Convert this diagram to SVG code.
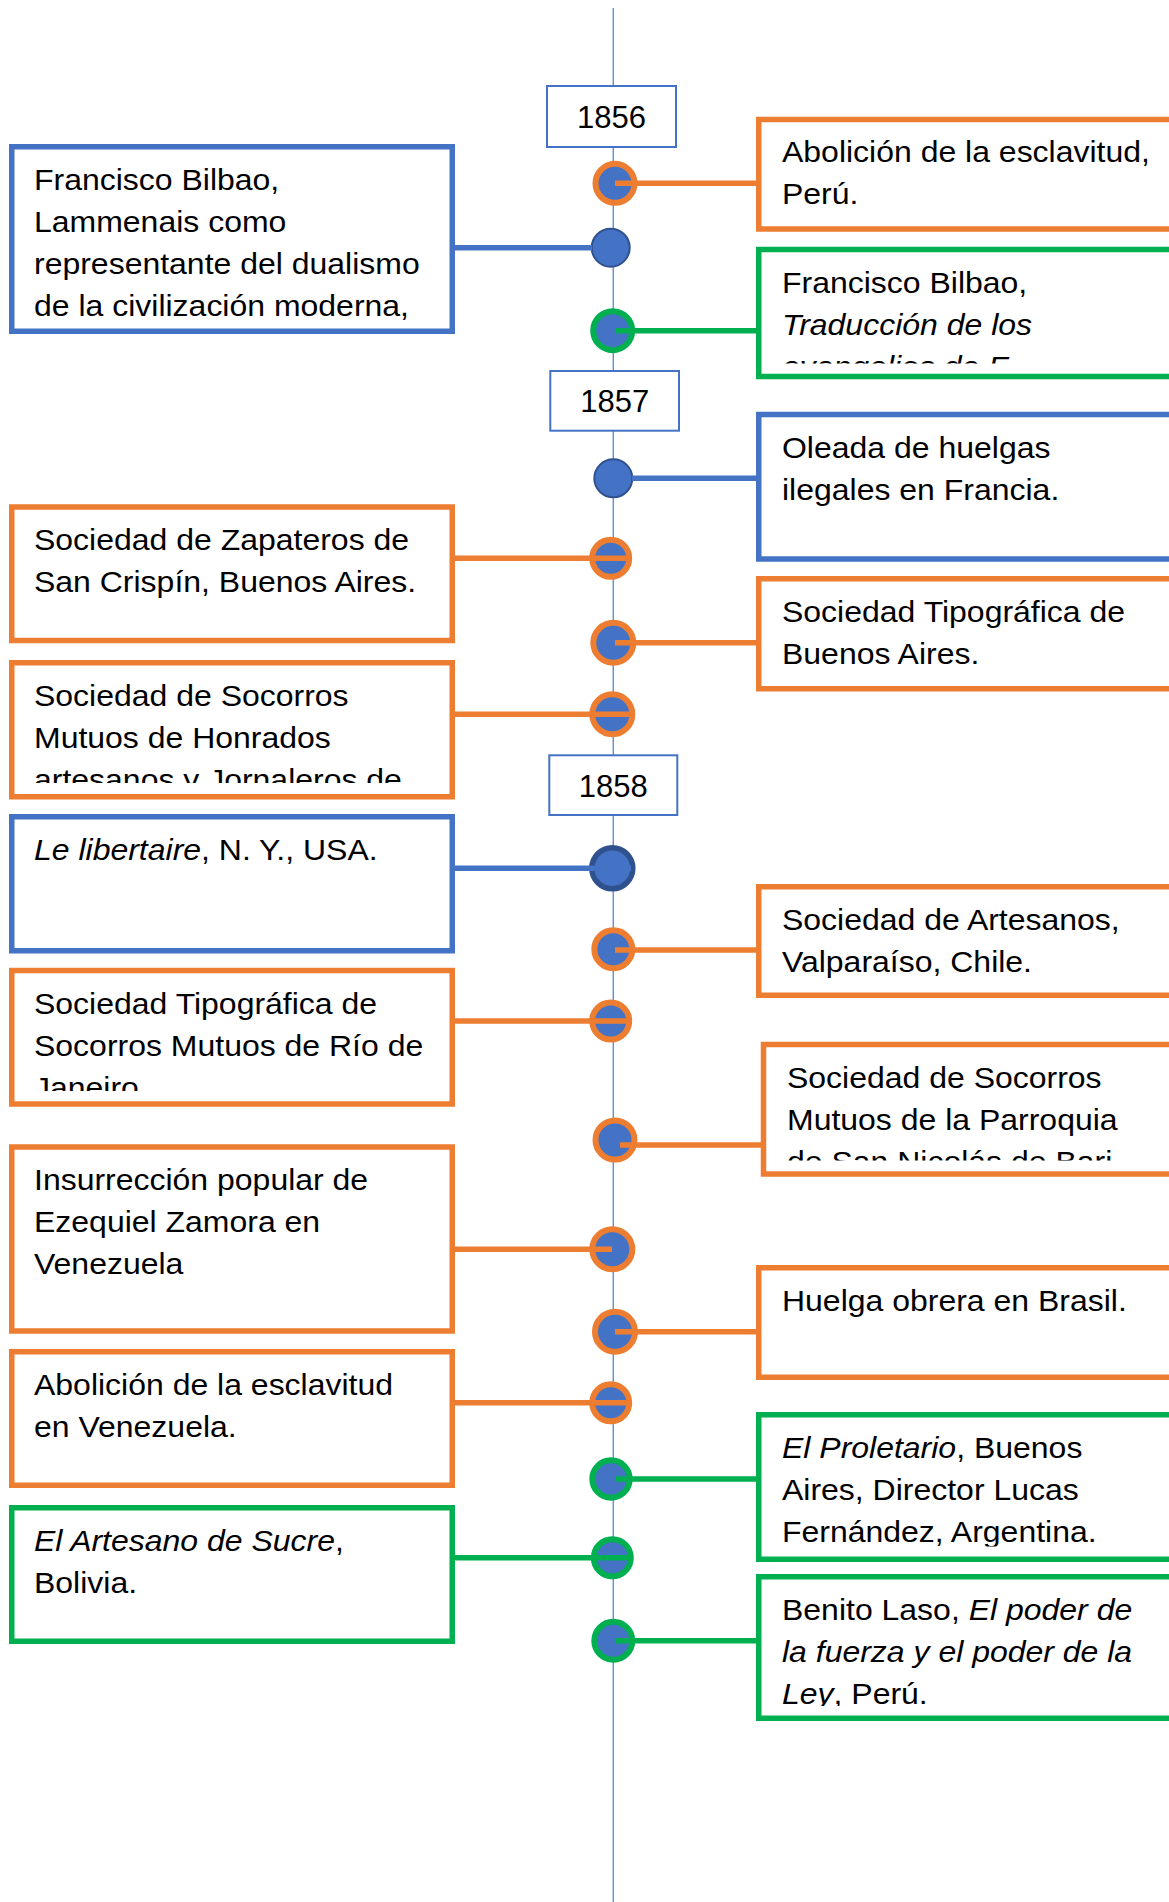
<svg xmlns="http://www.w3.org/2000/svg" width="1169" height="1902" viewBox="0 0 1169 1902">
<style>
.bg{fill:#fff}
.box{fill:#fff;stroke-width:5.5}
.bl{stroke:#4472C4}
.or{stroke:#ED7D31}
.gr{stroke:#00B050}
.yr{fill:#fff;stroke:#4472C4;stroke-width:2}
.t{font-family:"Liberation Sans",Arial,sans-serif;font-size:30px;fill:#000}
.y{font-family:"Liberation Sans",Arial,sans-serif;font-size:31px;fill:#000;text-anchor:middle}
.i{font-style:italic}
.con{fill:none;stroke-width:5.5}
.ring{fill:#4472C4;stroke-width:6}
.dot{fill:#4472C4;stroke:#2F528F;stroke-width:2}
.axis{stroke:#6F8FD4;stroke-width:1.5}
</style>
<defs>
<clipPath id="cR2"><rect x="760" y="250" width="420" height="113.5"/></clipPath>
<clipPath id="cL3"><rect x="12" y="663" width="440" height="120"/></clipPath>
<clipPath id="cL5"><rect x="12" y="971" width="440" height="120"/></clipPath>
<clipPath id="cR6"><rect x="765" y="1045" width="420" height="115.5"/></clipPath>
<clipPath id="cR8"><rect x="760" y="1415" width="420" height="131.5"/></clipPath>
<clipPath id="cR9"><rect x="760" y="1577" width="420" height="129"/></clipPath>
</defs>
<rect class="bg" x="0" y="0" width="1169" height="1902"/>

<g id="timeline">
<line class="axis" x1="613.3" y1="8" x2="613.3" y2="1902"/>
</g>

<g id="years">
<g id="y1856"><rect class="yr" x="547" y="86" width="129" height="61"/><text class="y" x="611.5" y="127.5">1856</text></g>
<g id="y1857"><rect class="yr" x="550.3" y="371" width="128.7" height="59.7"/><text class="y" x="614.7" y="412">1857</text></g>
<g id="y1858"><rect class="yr" x="549.3" y="755.3" width="128" height="59.7"/><text class="y" x="613.3" y="796.5">1858</text></g>
</g>

<g id="markers">
<circle class="ring or" cx="615" cy="183.3" r="19.5"/>
<circle class="dot" cx="610.7" cy="247.7" r="19"/>
<circle class="ring gr" cx="612.7" cy="330.7" r="19.5"/>
<circle class="dot" cx="613.3" cy="478.3" r="19"/>
<circle class="ring or" cx="610.7" cy="558.3" r="18.5"/>
<circle class="ring or" cx="613.3" cy="642.7" r="20"/>
<circle class="ring or" cx="612.3" cy="714.3" r="20"/>
<circle class="dot" cx="612.3" cy="868.3" r="20.5" style="stroke-width:5.5"/>
<circle class="ring or" cx="613.3" cy="949.3" r="19"/>
<circle class="ring or" cx="610.7" cy="1021" r="18.5"/>
<circle class="ring or" cx="615" cy="1140" r="19.5"/>
<circle class="ring or" cx="612.3" cy="1249.3" r="20"/>
<circle class="ring or" cx="615" cy="1331.7" r="20"/>
<circle class="ring or" cx="610.7" cy="1402.7" r="18.5"/>
<circle class="ring gr" cx="611" cy="1479" r="18.7"/>
<circle class="ring gr" cx="612.3" cy="1557.7" r="18.5"/>
<circle class="ring gr" cx="613.3" cy="1640.7" r="19"/>
</g>

<g id="connectors">
<line class="con or" x1="615" y1="183.3" x2="757" y2="183.3"/>
<line class="con bl" x1="454" y1="247.7" x2="592" y2="247.7"/>
<line class="con gr" x1="615" y1="330.7" x2="757" y2="330.7"/>
<line class="con bl" x1="632" y1="478.3" x2="757" y2="478.3"/>
<line class="con or" x1="454" y1="558.3" x2="628" y2="558.3"/>
<line class="con or" x1="615" y1="642.7" x2="757" y2="642.7"/>
<line class="con or" x1="454" y1="714.3" x2="629" y2="714.3"/>
<line class="con bl" x1="454" y1="868.3" x2="631" y2="868.3"/>
<line class="con or" x1="615" y1="950" x2="757" y2="950"/>
<line class="con or" x1="454" y1="1021" x2="627" y2="1021"/>
<line class="con or" x1="620" y1="1145" x2="762" y2="1145"/>
<line class="con or" x1="454" y1="1249.3" x2="612" y2="1249.3"/>
<line class="con or" x1="615" y1="1331.7" x2="757" y2="1331.7"/>
<line class="con or" x1="454" y1="1402.7" x2="627" y2="1402.7"/>
<line class="con gr" x1="615" y1="1479" x2="757" y2="1479"/>
<line class="con gr" x1="454" y1="1557.7" x2="628" y2="1557.7"/>
<line class="con gr" x1="615" y1="1640.7" x2="757" y2="1640.7"/>
</g>

<g id="L1">
<rect class="box bl" x="11.75" y="146.75" width="440.5" height="184.5"/>
<text class="t" transform="translate(34 190) scale(1.066 1)"><tspan x="0">Francisco Bilbao,</tspan><tspan x="0" dy="42">Lammenais como</tspan><tspan x="0" dy="42">representante del dualismo</tspan><tspan x="0" dy="42">de la civilización moderna,</tspan></text>
</g>
<g id="R1">
<rect class="box or" x="758.75" y="119.5" width="430" height="109.5"/>
<text class="t" transform="translate(782 162) scale(1.066 1)"><tspan x="0">Abolición de la esclavitud,</tspan><tspan x="0" dy="42">Perú.</tspan></text>
</g>
<g id="R2">
<rect class="box gr" x="758.75" y="249.5" width="430" height="127"/>
<g clip-path="url(#cR2)">
<text class="t" transform="translate(782 293) scale(1.066 1)"><tspan x="0">Francisco Bilbao,</tspan><tspan x="0" dy="42" class="i">Traducción de los</tspan><tspan x="0" dy="42" class="i">evangelios de F</tspan></text>
</g>
</g>
<g id="R3">
<rect class="box bl" x="758.75" y="414.5" width="430" height="144.5"/>
<text class="t" transform="translate(782 458) scale(1.066 1)"><tspan x="0">Oleada de huelgas</tspan><tspan x="0" dy="42">ilegales en Francia.</tspan></text>
</g>
<g id="L2">
<rect class="box or" x="11.75" y="507" width="440.5" height="133.5"/>
<text class="t" transform="translate(34 550) scale(1.066 1)"><tspan x="0">Sociedad de Zapateros de</tspan><tspan x="0" dy="42">San Crispín, Buenos Aires.</tspan></text>
</g>
<g id="R4">
<rect class="box or" x="758.75" y="578.75" width="430" height="110"/>
<text class="t" transform="translate(782 622) scale(1.066 1)"><tspan x="0">Sociedad Tipográfica de</tspan><tspan x="0" dy="42">Buenos Aires.</tspan></text>
</g>
<g id="L3">
<rect class="box or" x="11.75" y="662.75" width="440.5" height="134"/>
<g clip-path="url(#cL3)">
<text class="t" transform="translate(34 706) scale(1.066 1)"><tspan x="0">Sociedad de Socorros</tspan><tspan x="0" dy="42">Mutuos de Honrados</tspan><tspan x="0" dy="42">artesanos y Jornaleros de</tspan></text>
</g>
</g>
<g id="L4">
<rect class="box bl" x="11.75" y="816.75" width="440.5" height="134"/>
<text class="t" transform="translate(34 860) scale(1.066 1)"><tspan class="i">Le libertaire</tspan>, N. Y., USA.</text>
</g>
<g id="R5">
<rect class="box or" x="758.75" y="886.75" width="430" height="108.5"/>
<text class="t" transform="translate(782 930) scale(1.066 1)"><tspan x="0">Sociedad de Artesanos,</tspan><tspan x="0" dy="42">Valparaíso, Chile.</tspan></text>
</g>
<g id="L5">
<rect class="box or" x="11.75" y="970.5" width="440.5" height="133.5"/>
<g clip-path="url(#cL5)">
<text class="t" transform="translate(34 1014) scale(1.066 1)"><tspan x="0">Sociedad Tipográfica de</tspan><tspan x="0" dy="42">Socorros Mutuos de Río de</tspan><tspan x="0" dy="42">Janeiro</tspan></text>
</g>
</g>
<g id="R6">
<rect class="box or" x="763.5" y="1044.5" width="430" height="129.5"/>
<g clip-path="url(#cR6)">
<text class="t" transform="translate(787 1088) scale(1.066 1)"><tspan x="0">Sociedad de Socorros</tspan><tspan x="0" dy="42">Mutuos de la Parroquia</tspan><tspan x="0" dy="42">de San Nicolás de Bari</tspan></text>
</g>
</g>
<g id="L6">
<rect class="box or" x="11.75" y="1147" width="440.5" height="184"/>
<text class="t" transform="translate(34 1190) scale(1.066 1)"><tspan x="0">Insurrección popular de</tspan><tspan x="0" dy="42">Ezequiel Zamora en</tspan><tspan x="0" dy="42">Venezuela</tspan></text>
</g>
<g id="R7">
<rect class="box or" x="758.75" y="1267.75" width="430" height="109.5"/>
<text class="t" transform="translate(782 1311) scale(1.066 1)">Huelga obrera en Brasil.</text>
</g>
<g id="L7">
<rect class="box or" x="11.75" y="1351.75" width="440.5" height="133.5"/>
<text class="t" transform="translate(34 1395) scale(1.066 1)"><tspan x="0">Abolición de la esclavitud</tspan><tspan x="0" dy="42">en Venezuela.</tspan></text>
</g>
<g id="R8">
<rect class="box gr" x="758.75" y="1414.75" width="430" height="144.5"/>
<g clip-path="url(#cR8)">
<text class="t" transform="translate(782 1458) scale(1.066 1)"><tspan x="0" class="i">El Proletario</tspan><tspan>, Buenos</tspan><tspan x="0" dy="42">Aires, Director Lucas</tspan><tspan x="0" dy="42">Fernández, Argentina.</tspan></text>
</g>
</g>
<g id="L8">
<rect class="box gr" x="11.75" y="1507.75" width="440.5" height="133.5"/>
<text class="t" transform="translate(34 1551) scale(1.066 1)"><tspan x="0" class="i">El Artesano de Sucre</tspan><tspan>,</tspan><tspan x="0" dy="42">Bolivia.</tspan></text>
</g>
<g id="R9">
<rect class="box gr" x="758.75" y="1576.75" width="430" height="141.5"/>
<g clip-path="url(#cR9)">
<text class="t" transform="translate(782 1620) scale(1.066 1)"><tspan x="0">Benito Laso, </tspan><tspan class="i">El poder de</tspan><tspan x="0" dy="42" class="i">la fuerza y el poder de la</tspan><tspan x="0" dy="42" class="i">Ley</tspan><tspan>, Perú.</tspan></text>
</g>
</g>
</svg>
